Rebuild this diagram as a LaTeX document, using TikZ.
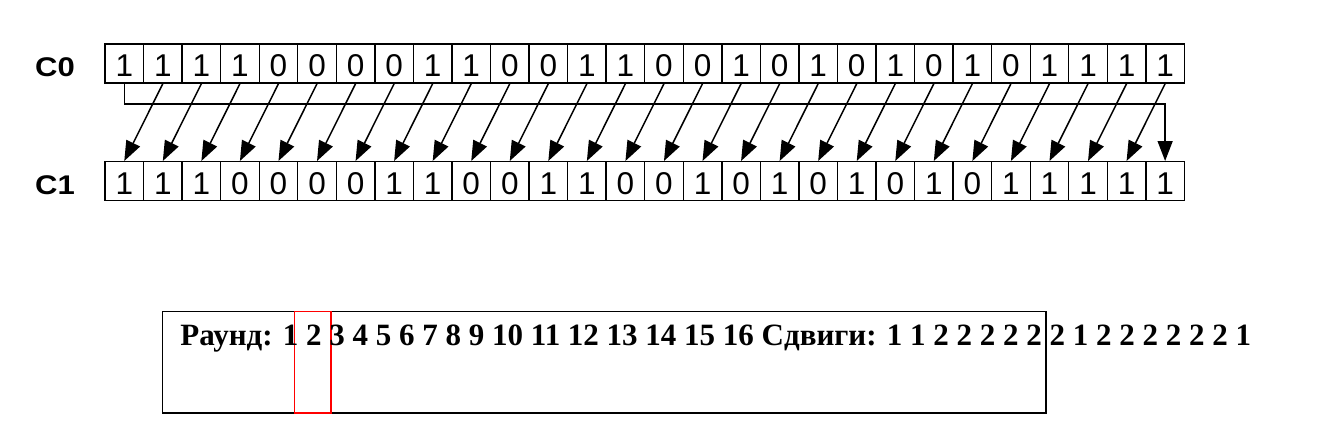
\documentclass[tikz,border=0pt]{standalone}
\usepackage{fontspec}
\setmainfont{Liberation Serif}
\setsansfont{Liberation Sans}
\usetikzlibrary{arrows.meta}

\begin{document}
\begin{tikzpicture}[x=1pt,y=-1pt,thick]

%Define register parameters
\def\cw{38.55}       %Cell width.
\def\ch{39}          %Cell height.
\def\xo{105}         %Left edge of both registers.
\def\ya{63.5}        %Middle of C0.
\def\yb{181.2}       %Middle of C1.

\tikzset{
  bit/.style={draw,line width=1.4pt,minimum width=\cw pt,minimum height=\ch pt,
    inner sep=0pt,text height=26pt,text depth=0pt,font=\fontsize{31.5}{31.5}\sffamily},
  reglabel/.style={anchor=base,inner sep=0pt,font=\fontsize{27}{27}\sffamily\bfseries},
  shiftarrow/.style={line width=1.5pt,-{Triangle[length=20pt,width=15pt]}},
}

\useasboundingbox (0,0) rectangle (1326,436);

% C0 and C1
\foreach \b [count=\i from 0] in {1,1,1,1,0,0,0,0,1,1,0,0,1,1,0,0,1,0,1,0,1,0,1,0,1,1,1,1}
  \node[bit] (a\i) at ({\xo+\cw*(\i+0.5)},\ya) {\b};
\foreach \b [count=\i from 0] in {1,1,1,0,0,0,0,1,1,0,0,1,1,0,0,1,0,1,0,1,0,1,0,1,1,1,1,1}
  \node[bit] (b\i) at ({\xo+\cw*(\i+0.5)},\yb) {\b};

\node[reglabel] (c0) at (55,77) {\scalebox{1.15}[1]{C0}};
\node[reglabel] (c1) at (55,194) {\scalebox{1.15}[1]{C1}};

% Shift left by one
\foreach \i [evaluate=\i as \j using int(\i-1)] in {1,...,27}
  \draw[shiftarrow] (a\i.south) -- (b\j.north);

% Wrap round of the first bit
\coordinate (wrap) at (0,104);
\draw[shiftarrow] (a0.south) -- (a0.south |- wrap) -- (b27.north |- wrap) -- (b27.north);

% Rounds and shifts
\node[draw,line width=1.4pt,minimum width=883.4pt,minimum height=101.5pt,inner sep=0pt] (box) at (604.3,362.25) {};
\node[draw=red,line width=1.3pt,minimum width=36.3pt,minimum height=101.5pt,inner sep=0pt] (mark) at (312.85,362.25) {};
\node[anchor=base west,inner sep=0pt,font=\fontsize{31}{31}\selectfont\bfseries] (rounds) at (180,345)
  {Раунд: 1 2 3 4 5 6 7 8 9 10 11 12 13 14 15 16 Сдвиги: 1 1 2 2 2 2 2 2 1 2 2 2 2 2 2 1};

\end{tikzpicture}
\end{document}
